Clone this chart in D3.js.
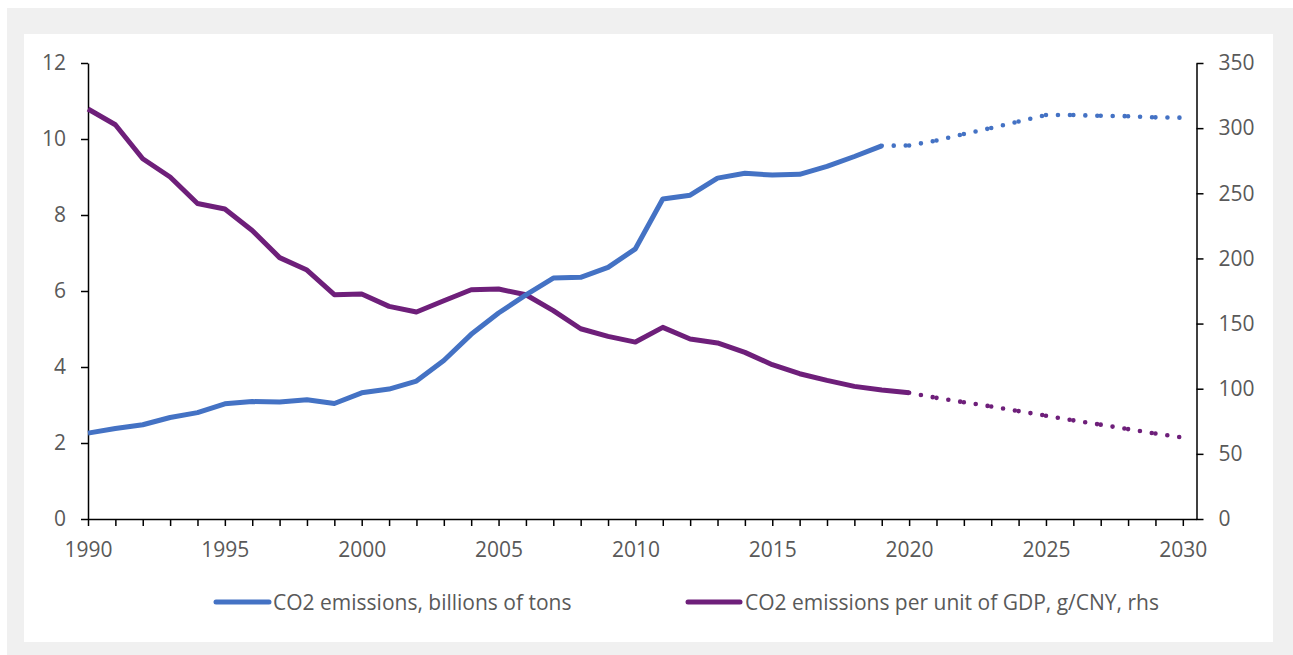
<!DOCTYPE html>
<html>
<head>
<meta charset="utf-8">
<script src="https://cdn.jsdelivr.net/npm/d3@7"></script>
<style>
  html, body { margin: 0; padding: 0; background: #ffffff; }
  svg { display: block; }
  text { font-family: "Open Sans", sans-serif; fill: #595959; }
</style>
</head>
<body>
<svg id="chart" width="1293" height="655"></svg>
<script>
// ---- data ----
const years = d3.range(1990, 2020);               // 1990..2019 actual CO2
const co2 = [2.26, 2.38, 2.48, 2.67, 2.80, 3.03, 3.09, 3.08, 3.14, 3.04,
             3.32, 3.42, 3.63, 4.17, 4.86, 5.42, 5.90, 6.34, 6.36, 6.62,
             7.11, 8.42, 8.52, 8.97, 9.10, 9.05, 9.07, 9.28, 9.54, 9.82];
const co2ForecastYears = d3.range(2019, 2031);
const co2Forecast = [9.82, 9.83, 9.96, 10.13, 10.29, 10.46, 10.63, 10.63, 10.61, 10.60, 10.57, 10.56];

const intensityYears = d3.range(1990, 2021);      // 1990..2020 actual
const intensity = [314.7, 302.6, 276.5, 262.5, 242.2, 237.9, 221.5, 200.6, 191.1, 172.2,
                   172.7, 163.2, 158.9, 167.5, 176.0, 176.5, 172.1, 159.9, 146.0, 140.2,
                   135.8, 147.1, 138.2, 135.1, 127.9, 118.4, 111.5, 106.4, 101.8, 99.0, 96.9];
const intensityForecastYears = d3.range(2020, 2031);
const intensityForecast = [96.9, 93.0, 89.6, 86.4, 82.8, 79.3, 75.7, 72.4, 69.0, 65.6, 62.5];

const leftTicks = [0, 2, 4, 6, 8, 10, 12];
const rightTicks = [0, 50, 100, 150, 200, 250, 300, 350];
const xTicks = d3.range(1990, 2031);
const xLabelYears = [1990, 1995, 2000, 2005, 2010, 2015, 2020, 2025, 2030];
const seriesNames = ["CO2 emissions, billions of tons", "CO2 emissions per unit of GDP, g/CNY, rhs"];
const colors = ["#4472C4", "#6E1F7A"];

// ---- layout ----
const svg = d3.select("#chart");
svg.append("rect").attr("x", 7).attr("y", 8).attr("width", 1286).attr("height", 647).attr("fill", "#f0f0f0");
svg.append("rect").attr("x", 24).attr("y", 34).attr("width", 1249).attr("height", 608).attr("fill", "#ffffff");

const x = d3.scaleLinear().domain([1990, 2030.5]).range([88, 1196.5]);
const yL = d3.scaleLinear().domain([0, 12]).range([519, 63]);
const yR = d3.scaleLinear().domain([0, 350]).range([519, 63]);

function styleAxis(g) {
  g.select(".domain").attr("stroke", "#000").attr("stroke-width", 1.5);
  g.selectAll(".tick line").attr("stroke", "#000").attr("stroke-width", 1.5);
  g.selectAll(".tick text").attr("fill", "#595959")
    .style("font-family", '"Open Sans", sans-serif').style("font-size", "21px");
}

const gx = svg.append("g").attr("transform", "translate(0,519)")
  .call(d3.axisBottom(x).tickValues(xTicks).tickSize(7).tickSizeOuter(0).tickPadding(16)
    .tickFormat(d => xLabelYears.includes(d) ? String(d) : ""));
styleAxis(gx);

const gl = svg.append("g").attr("transform", "translate(88,0)")
  .call(d3.axisLeft(yL).tickValues(leftTicks).tickSize(7).tickSizeOuter(0).tickPadding(15));
styleAxis(gl);

const gr = svg.append("g").attr("transform", "translate(1196.5,0)")
  .call(d3.axisRight(yR).tickValues(rightTicks).tickSize(7).tickSizeOuter(0).tickPadding(15));
styleAxis(gr);

// ---- lines ----
const lineL = d3.line().x(d => x(d[0])).y(d => yL(d[1]));
const lineR = d3.line().x(d => x(d[0])).y(d => yR(d[1]));

function drawDotted(xs, vs, lineFn, color) {
  for (let i = 0; i < xs.length - 1; i++) {
    svg.append("path")
      .attr("d", lineFn([[xs[i], vs[i]], [xs[i + 1], vs[i + 1]]]))
      .attr("fill", "none").attr("stroke", color).attr("stroke-width", 4.6)
      .attr("stroke-linecap", "round").attr("stroke-dasharray", "0 12");
  }
}

drawDotted(intensityForecastYears, intensityForecast, lineR, colors[1]);
drawDotted(co2ForecastYears, co2Forecast, lineL, colors[0]);

svg.append("path")
  .attr("d", lineR(intensityYears.map((yr, i) => [yr, intensity[i]])))
  .attr("fill", "none").attr("stroke", colors[1]).attr("stroke-width", 5)
  .attr("stroke-linejoin", "round");

svg.append("path")
  .attr("d", lineL(years.map((yr, i) => [yr, co2[i]])))
  .attr("fill", "none").attr("stroke", colors[0]).attr("stroke-width", 5)
  .attr("stroke-linejoin", "round");

// ---- legend ----
const legendItems = [
  { x1: 216, x2: 269, tx: 273, name: seriesNames[0], color: colors[0] },
  { x1: 688, x2: 740, tx: 745, name: seriesNames[1], color: colors[1] }
];
legendItems.forEach(it => {
  svg.append("line").attr("x1", it.x1).attr("x2", it.x2).attr("y1", 602).attr("y2", 602)
    .attr("stroke", it.color).attr("stroke-width", 5).attr("stroke-linecap", "round");
  svg.append("text").attr("x", it.tx).attr("y", 610)
    .style("font-size", "21px").text(it.name);
});
</script>
</body>
</html>
